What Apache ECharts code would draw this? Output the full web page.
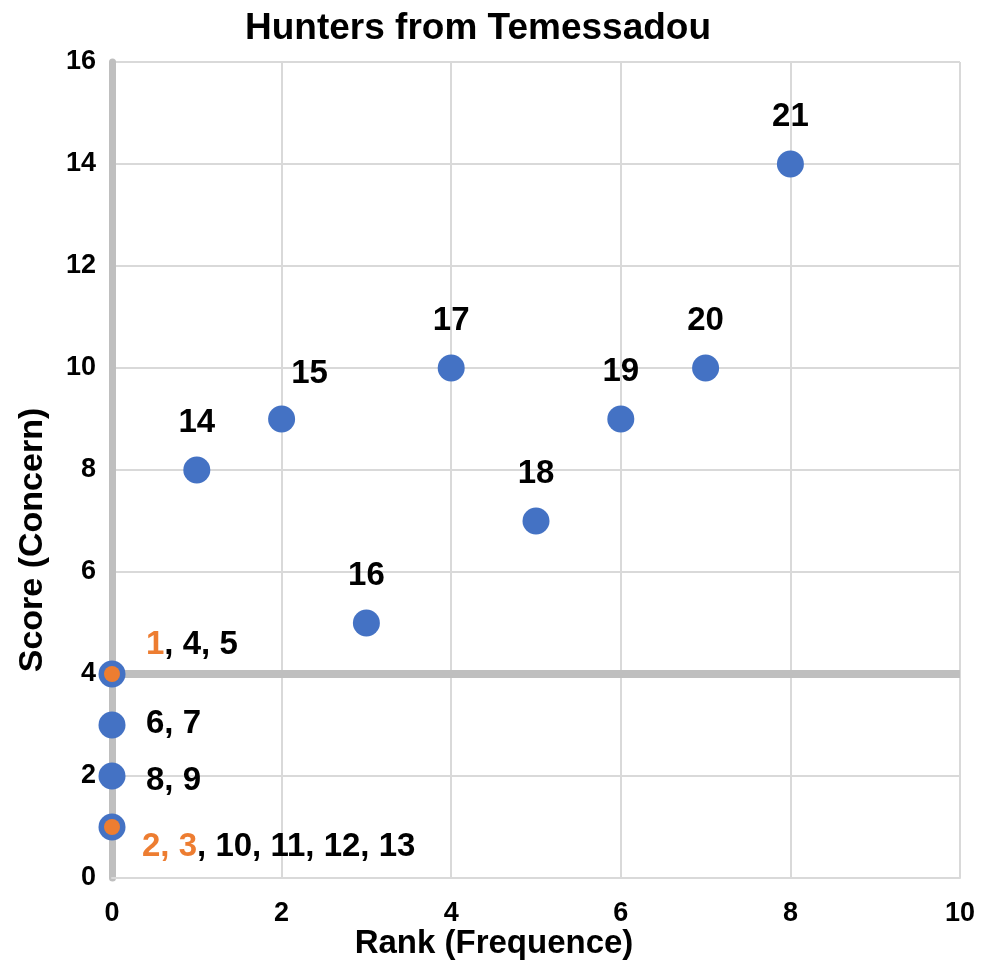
<!DOCTYPE html>
<html>
<head>
<meta charset="utf-8">
<title>Hunters from Temessadou</title>
<script src="https://cdn.jsdelivr.net/npm/echarts@6/dist/echarts.min.js"></script>
<style>
  html, body { margin: 0; padding: 0; background: #fff; }
  #chart { width: 988px; height: 966px; }
</style>
</head>
<body>
<div id="chart"></div>
<script>
// rank (x) and score (y) of each hunter group
var ranks = [1, 2, 3, 4, 5, 6, 7, 8, 0, 0, 0, 0];
var scores = [8, 9, 5, 10, 7, 9, 10, 14, 4, 3, 2, 1];
// label text: orange part first, then the black rest
var labelOrange = ['', '', '', '', '', '', '', '', '1', '', '', '2, 3'];
var labelRest = ['14', '15', '16', '17', '18', '19', '20', '21', ', 4, 5', '6, 7', '8, 9', ', 10, 11, 12, 13'];
var xTicks = [0, 2, 4, 6, 8, 10];
var yTicks = [0, 2, 4, 6, 8, 10, 12, 14, 16];
var thresholdScore = 4;

var blue = '#4472C4';
var orange = '#ED7D31';
var font = "'Liberation Sans', Arial, sans-serif";

// where each label sits relative to its dot
function labelPlace(i) {
    if (ranks[i] === 0) {
        var dy = {4: -29, 3: -1, 2: 5, 1: 20}[scores[i]];
        var dx = scores[i] === 1 ? 30 : 34;
        return { offset: [dx, dy], align: 'left' };
    }
    if (labelRest[i] === '15') return { offset: [28, -45], align: 'center' };
    return { offset: [0, -47], align: 'center' };
}

var points = ranks.map(function (r, i) {
    var p = labelPlace(i);
    return {
        value: [r, scores[i]],
        label: { offset: p.offset, align: p.align }
    };
});

var orangeDots = [];
ranks.forEach(function (r, i) {
    if (labelOrange[i]) orangeDots.push([r, scores[i]]);
});

var chart = echarts.init(document.getElementById('chart'));
chart.setOption({
    animation: false,
    title: {
        text: 'Hunters from Temessadou',
        left: 473,
        top: 5,
        textAlign: 'center',
        textStyle: { fontFamily: font, fontWeight: 'bold', fontSize: 37, color: '#000' }
    },
    grid: { left: 112, right: 28, top: 62, bottom: 88, outerBoundsMode: 'none', containLabel: false },
    xAxis: {
        type: 'value',
        min: xTicks[0], max: xTicks[xTicks.length - 1], interval: 2,
        name: 'Rank (Frequence)',
        nameLocation: 'middle',
        nameGap: 49,
        nameMoveOverlap: false,
        nameTextStyle: { fontFamily: font, fontWeight: 'bold', fontSize: 33, color: '#000', padding: [0, 84, 0, 0] },
        axisLine: { show: true, lineStyle: { color: '#d9d9d9', width: 2 } },
        axisTick: { show: false },
        axisLabel: { margin: 22, fontFamily: font, fontWeight: 'bold', fontSize: 27, color: '#000' },
        splitLine: { show: true, lineStyle: { color: '#d9d9d9', width: 2 } }
    },
    yAxis: {
        type: 'value',
        min: yTicks[0], max: yTicks[yTicks.length - 1], interval: 2,
        name: 'Score (Concern)',
        nameLocation: 'middle',
        nameGap: 62,
        nameMoveOverlap: false,
        nameRotate: 90,
        nameTextStyle: { fontFamily: font, fontWeight: 'bold', fontSize: 34, color: '#000', padding: [0, 140, 0, 0] },
        axisLine: { show: true, lineStyle: { color: '#bfbfbf', width: 7 } },
        axisTick: { show: false },
        axisLabel: { margin: 16, fontFamily: font, fontWeight: 'bold', fontSize: 27, color: '#000' },
        splitLine: { show: true, lineStyle: { color: '#d9d9d9', width: 2 } }
    },
    series: [
        {
            type: 'scatter',
            z: 1,
            data: [],
            markLine: {
                z: 1,
                silent: true,
                symbol: 'none',
                label: { show: false },
                lineStyle: { color: '#bfbfbf', width: 8, type: 'solid' },
                data: [{ yAxis: thresholdScore }]
            }
        },
        {
            type: 'scatter',
            z: 3,
            symbolSize: 27,
            itemStyle: { color: blue, opacity: 1 },
            data: points,
            label: {
                show: true,
                position: 'inside',
                fontFamily: font,
                fontWeight: 'bold',
                fontSize: 33,
                color: '#000',
                formatter: function (p) {
                    var i = p.dataIndex;
                    var s = '';
                    if (labelOrange[i]) s += '{o|' + labelOrange[i] + '}';
                    s += '{k|' + labelRest[i] + '}';
                    return s;
                },
                rich: {
                    o: { color: orange, fontFamily: font, fontWeight: 'bold', fontSize: 33 },
                    k: { color: '#000', fontFamily: font, fontWeight: 'bold', fontSize: 33 }
                }
            }
        },
        {
            type: 'scatter',
            z: 4,
            symbolSize: 16,
            itemStyle: { color: orange, opacity: 1 },
            data: orangeDots
        }
    ]
});
</script>
</body>
</html>
